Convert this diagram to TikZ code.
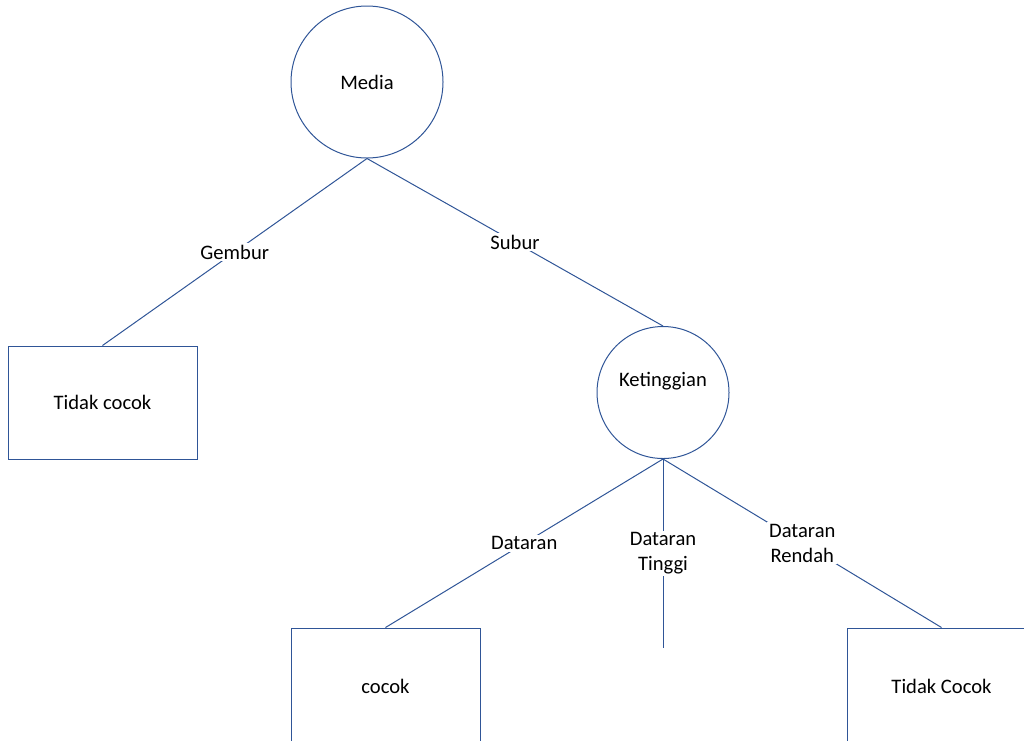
\documentclass[tikz,border=0pt]{standalone}
\usepackage{fontspec}
\setmainfont{Carlito}
\definecolor{lineblue}{RGB}{47,85,151}
\begin{document}
\begin{tikzpicture}[x=1pt,y=-1pt,
  every node/.style={font=\fontsize{20.6}{24.5}\selectfont, text=black},
  circ/.style={draw=lineblue, line width=1pt, circle, inner sep=0pt},
  leaf/.style={draw=lineblue, line width=1pt, rectangle, inner sep=0pt, minimum width=189pt, minimum height=113pt},
  conn/.style={draw=lineblue, line width=1pt},
  lab/.style={fill=white, inner sep=2pt, align=center}]
\useasboundingbox (0,0) rectangle (1024,740);
\clip (0,0) rectangle (1024,740);
\node[circ, minimum size=152pt] (media) at (367,82) {Media};
\node[circ, minimum size=132pt, label={[name=ketlabel, yshift=11.5pt]center:Ketinggian}] (ket) at (663,392.5) {};
\node[leaf] (tc1) at (102.5,402.5) {Tidak cocok};
\node[leaf, minimum height=116pt] (cocok) at (385.5,686) {cocok};
\node[leaf, minimum height=116pt] (tc2) at (941.5,686) {Tidak Cocok};
\coordinate (dtend) at (663,647.5);
\draw[conn] (media.south) -- node[lab] {Gembur} (tc1.north);
\draw[conn] (media.south) -- node[lab] {Subur} (ket.north);
\draw[conn] (ket.south) -- node[lab] {Dataran} (cocok.north);
\draw[conn] (ket.south) -- node[lab] {Dataran\\Tinggi} (dtend);
\draw[conn] (ket.south) -- node[lab] {Dataran\\Rendah} (tc2.north);
\end{tikzpicture}
\end{document}
